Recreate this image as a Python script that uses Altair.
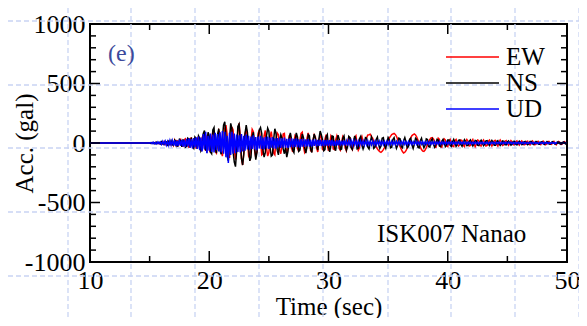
import altair as alt
import pandas as pd

W, H = 477, 238

components = ["EW", "NS", "UD"]
colors = ["#ff0000", "#000000", "#0000ff"]

t_quiet = 10.0   # record is flat (0 gal) from 10 s until ~15 s
t0, dt = 15.0, 0.1

ew = [
    0, 2, -3, 4, -2, 5, -4, 3, -6, 4,
    8, -7, 10, -12, 6, 14, -10, 8, -15, 12,
    -18, 22, -14, 25, -28, 18, 30, -22, -26, 28,
    35, -30, 20, -40, 38, 42, -35, -25, 45, -48,
    30, 55, -50, -60, 45, 68, -40, -65, 58, 72,
    -55, -80, 40, 95, 60, -70, -85, 50, 105, 80,
    -60, -110, -40, 120, 150, 70, -90, -125, 30, 135,
    110, -50, -140, -60, 90, 165, 60, -130, -185, -80,
    70, 125, 40, -110, -130, 20, 115, 95, -60, -120,
    -70, 80, 110, 30, -100, -90, 60, 105, -40, -110,
    -80, 50, 95, 20, -85, -100, 30, 85, 70, -60,
    -90, -20, 75, 80, -30, -85, -50, 60, 70, -40,
    -75, 10, 65, 55, -45, -70, 20, 80, 90, -30,
    -80, -60, 40, 85, 30, -65, -70, 25, 70, 50,
    -40, -75, 15, 65, 45, -55, -60, 30, 70, -20,
    -65, -10, 60, 40, -50, -55, 25, 60, 20, -45,
    -60, 10, 55, 35, -40, -65, 5, 50, 45, -35,
    -55, -15, 45, 60, -10, -60, -40, 35, 55, 10,
    10, 35, 45, 68, 70, 74, 55, 42, 12, -10,
    -30, -50, -62, -72, -78, -70, -55, -38, -15, 5,
    20, 42, 56, 70, 76, 80, 72, 55, 32, 0,
    -30, -52, -72, -84, -78, -65, -42, -10, 20, 45,
    62, 70, 76, 68, 50, 25, -5, -35, -55, -68,
    -70, -60, -40, -15, 10, 30, 42, 45, 35, 15,
    -40, 5, 40, 30, -30, -35, 10, 35, 25, -25,
    -30, 15, 30, 5, -25, -30, 20, 30, -5, -25,
    -15, 25, 20, -20, -30, 10, 30, 15, -25, -20,
    15, 30, -5, -30, -10, 25, 20, -20, -25, 10,
    25, 5, -25, -20, 15, 25, -5, -25, -10, 20,
    22, -10, -25, 5, 25, 10, -20, -15, 15, 20,
    -5, -20, 0, 20, 10, -15, -15, 10, 18, -5,
    -18, 2, 18, 8, -15, -12, 12, 15, -8, -15,
    5, 18, 5, -15, -10, 12, 14, -6, -14, 4,
    16, 3, -14, -8, 12, 12, -8, -12, 6, 14,
    -4, -14, 3, 13, 6, -12, -10, 8, 12, -5,
    0,
]

ns = [
    0, -3, 4, -5, 3, -6, 7, -4, 5, -8,
    10, -6, -12, 14, 8, -15, 12, -10, 18, -14,
    -20, 25, 15, -28, -22, 30, 18, -32, 26, 20,
    -35, -28, 40, 32, -38, 45, -30, -45, 50, 35,
    -50, 60, 40, -65, -45, 80, 105, -55, -70, 90,
    60, -75, -90, 110, 130, -40, -85, 70, 120, -60,
    -95, 40, 150, 178, 60, -110, -150, 30, 165, 120,
    -70, -160, -199, -60, 140, 160, 20, -130, -185, -90,
    80, 150, 90, -40, -150, -120, 60, 90, -30, -140,
    -80, 50, 110, 130, 80, -60, -118, -80, 60, 125,
    100, -40, -110, -100, 30, 120, 80, -60, -100, 20,
    70, 40, -50, -90, -40, -118, -70, 40, 85, 30,
    -60, -80, 20, 85, 50, -70, -60, 10, 75, 45,
    -40, -85, -30, 70, 60, -50, -80, 15, 75, 40,
    -20, -60, 35, 100, 70, 25, -65, -55, 50, 70,
    -30, -75, -20, 60, 55, -40, -65, 20, 65, 30,
    -55, -50, 40, 60, -10, -60, -30, 55, 45, -40,
    -55, 15, 60, 25, -50, -45, 35, 55, -15, -50,
    -20, 45, 40, -35, -50, 10, 50, 20, -45, -35,
    30, 50, -10, -45, -25, 40, 45, -20, -45, 5,
    45, 25, -40, -35, 30, 45, -5, -45, -20, 40,
    35, -30, -40, 20, 45, 10, -40, -30, 30, 40,
    -15, -45, -10, 40, 30, -35, -40, 20, 40, -5,
    -40, -20, 35, 30, -30, -35, 20, 35, -10, -35,
    -15, 30, 25, -25, -30, 15, 30, 0, -30, -15,
    25, 25, -20, -28, 10, 30, 5, -28, -15, 22,
    25, -12, -28, 3, 28, 12, -22, -20, 15, 25,
    -8, -25, -5, 22, 18, -18, -22, 10, 24, 2,
    -22, -12, 18, 20, -10, -22, 5, 22, 8, -18,
    -18, 12, 20, -5, -20, -8, 18, 14, -14, -16,
    8, 18, 0, -18, -10, 14, 15, -8, -16, 2,
    16, 6, -14, -12, 10, 14, -4, -14, -6, 12,
    12, -6, -13, 3, 13, 6, -11, -10, 8, 12,
    -4, -12, -2, 11, 8, -9, -10, 5, 11, 0,
    -10, -6, 9, 9, -5, -10, 2, 10, 4, -8,
    0,
]

ud = [
    0, 4, -5, 6, -7, 5, -8, 9, -6, 8,
    -12, 14, -10, 16, -18, 13, -19, 21, -16, 20,
    -22, 24, -27, 19, -25, 29, -23, 27, -31, 26,
    -32, 35, -28, 40, -38, 33, -45, 42, -36, 48,
    -50, 55, -60, 45, -70, 75, -55, 95, -85, 60,
    -65, 80, -75, 70, -80, 85, -60, 75, -70, 90,
    -80, 100, -90, 95, -120, 60, -168, 85, -100, 95,
    -90, 80, -85, 70, -75, 65, -80, 75, -70, 60,
    -65, 70, -55, 60, -60, 55, -50, 65, -55, 50,
    -60, 55, -45, 60, -50, 45, -55, 50, -45, 55,
    -50, 45, -40, 50, -45, 40, -48, 42, -38, 45,
    -42, 40, -38, 45, -40, 35, -42, 38, -35, 40,
    -38, 35, -32, 40, -35, 30, -38, 33, -30, 35,
    -32, 30, -28, 32, -30, 27, -30, 28, -25, 30,
    -28, 26, -24, 28, -27, 24, -26, 25, -22, 26,
    -25, 24, -22, 25, -24, 20, -23, 22, -20, 23,
    -22, 20, -19, 22, -20, 18, -21, 19, -17, 20,
    -19, 18, -16, 19, -18, 16, -18, 17, -15, 18,
    -17, 16, -15, 17, -16, 14, -16, 15, -14, 16,
    -16, 15, -13, 16, -15, 13, -15, 14, -12, 15,
    -15, 14, -12, 15, -14, 12, -14, 13, -12, 14,
    -14, 13, -11, 14, -13, 11, -13, 12, -11, 13,
    -13, 12, -10, 13, -12, 10, -12, 11, -10, 12,
    -12, 11, -10, 12, -11, 10, -11, 10, -9, 11,
    -11, 10, -9, 11, -10, 9, -10, 9, -8, 10,
    -10, 9, -8, 10, -9, 8, -9, 8, -7, 9,
    -9, 8, -7, 9, -8, 7, -9, 8, -7, 8,
    -9, 8, -7, 9, -8, 7, -8, 7, -6, 8,
    -8, 7, -6, 8, -7, 6, -8, 7, -6, 7,
    -8, 7, -6, 8, -7, 6, -7, 6, -5, 7,
    -7, 6, -5, 7, -6, 5, -7, 6, -5, 6,
    -7, 6, -5, 7, -6, 5, -6, 5, -4, 6,
    -6, 5, -4, 6, -5, 4, -6, 5, -4, 5,
    -6, 5, -4, 6, -5, 4, -5, 4, -3, 5,
    -5, 4, -3, 5, -4, 3, -5, 4, -3, 4,
    0,
]

x_major = [10, 20, 30, 40, 50]
x_minor = [15, 25, 35, 45]
y_major = [-1000, -500, 0, 500, 1000]
y_minor = [-900, -800, -700, -600, -400, -300, -200, -100,
           100, 200, 300, 400, 600, 700, 800, 900]

# decorative dashed background grid (pixel offsets from plot origin)
bg_x_px = [-22, 41, 105, 169, 233, 298, 361, 425, 489]
bg_y_px = [-3, 61, 124, 188, 252]

FONT = "'Liberation Serif', 'Times New Roman', Times, 'DejaVu Serif', serif"

rows = []
for comp, vals in zip(components, [ew, ns, ud]):
    rows.append({"time": t_quiet, "acc": 0.0, "comp": comp})
    for i, v in enumerate(vals):
        rows.append({"time": round(t0 + dt * i, 1), "acc": float(v), "comp": comp})
df = pd.DataFrame(rows)

xs = alt.Scale(domain=[10, 50], nice=False, zero=False)
ys = alt.Scale(domain=[-1000, 1000], nice=False, zero=False)
cs = alt.Scale(domain=components, range=colors)

x_axis = alt.Axis(values=x_major, ticks=False, tickSize=0, domain=False, grid=False,
                  labelPadding=5, labelFlush=False, format="d", title="Time (sec)",
                  titleY=52, titleBaseline="alphabetic")
y_axis = alt.Axis(values=y_major, ticks=False, tickSize=0, domain=False, grid=False,
                  labelPadding=5, labelFlush=False,
                  labelExpr="datum.value < 0 ? '-' + format(-datum.value, 'd') : format(datum.value, 'd')",
                  title="Acc. (gal)", titleX=-66, titleY=H / 2, titleAngle=270,
                  titleAlign="center", titleBaseline="middle")
legend = alt.Legend(title=None, orient="none", legendX=355, legendY=20,
                    symbolType="stroke", symbolSize=2809, symbolStrokeWidth=1.5,
                    clipHeight=26, rowPadding=0, padding=0,
                    labelFont=FONT, labelFontSize=25, labelOffset=6, labelColor="black")

grid_color = "#c9d4f3"
bg_v = alt.Chart(pd.DataFrame({"px": bg_x_px})).mark_rule(
    color=grid_color, strokeDash=[5, 3], strokeWidth=1.3
).encode(x=alt.X("px:Q", scale=None), y=alt.value(-16), y2=alt.value(294))
bg_h = alt.Chart(pd.DataFrame({"py": bg_y_px})).mark_rule(
    color=grid_color, strokeDash=[5, 3], strokeWidth=1.3
).encode(y=alt.Y("py:Q", scale=None), x=alt.value(-82), x2=alt.value(489))


def hticks(vals, x0, x1):
    return alt.Chart(pd.DataFrame({"acc": vals})).mark_rule(color="black", strokeWidth=1.5).encode(
        y=alt.Y("acc:Q", scale=ys, axis=y_axis), x=alt.value(x0), x2=alt.value(x1))


def vticks(vals, y0, y1):
    return alt.Chart(pd.DataFrame({"time": vals})).mark_rule(color="black", strokeWidth=1.5).encode(
        x=alt.X("time:Q", scale=xs, axis=x_axis), y=alt.value(y0), y2=alt.value(y1))


ticks = [
    hticks(y_major, 0, 10), hticks(y_minor, 0, 6),
    hticks(y_major, W - 10, W), hticks(y_minor, W - 6, W),
    vticks(x_major, H, H - 11), vticks(x_minor, H, H - 6),
    vticks(x_major, 0, 10), vticks(x_minor, 0, 6),
]


def comp_layer(c):
    return alt.Chart(df).transform_filter(alt.datum.comp == c).mark_line(
        strokeWidth=1.5, clip=True
    ).encode(
        x=alt.X("time:Q", scale=xs, axis=x_axis),
        y=alt.Y("acc:Q", scale=ys, axis=y_axis),
        color=alt.Color("comp:N", scale=cs, legend=legend),
    )


lines = [comp_layer(c) for c in components]

label_e = alt.Chart(pd.DataFrame({"txt": ["(e)"]})).mark_text(
    align="left", baseline="middle", font=FONT, fontSize=24, color="#3c4a9c"
).encode(text="txt:N", x=alt.value(18), y=alt.value(30))

station = alt.Chart(pd.DataFrame({"txt": ["ISK007 Nanao"]})).mark_text(
    align="left", baseline="alphabetic", font=FONT, fontSize=25, color="black"
).encode(text="txt:N", x=alt.value(287), y=alt.value(218))

chart = alt.layer(bg_v, bg_h, *lines, *ticks, label_e, station).properties(
    width=W, height=H,
    padding={"left": 82, "top": 16, "right": 12, "bottom": 56},
    autosize=alt.AutoSizeParams(type="none"),
).configure_view(
    stroke="black", strokeWidth=2
).configure_axis(
    labelFont=FONT, labelFontSize=26, labelColor="black",
    titleFont=FONT, titleFontSize=25, titleFontWeight="normal", titleColor="black",
).configure_text(
    font=FONT
)

chart.save("out.html", embed_options={"renderer": "svg", "actions": False})
